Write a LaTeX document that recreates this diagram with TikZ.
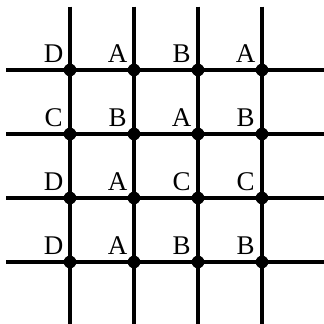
\documentclass[tikz,border=0pt]{standalone}
\usepackage{fontspec}
\setmainfont{Liberation Serif}
\usetikzlibrary{calc}

\begin{document}
\begin{tikzpicture}[x=1cm,y=1cm,
  gridline/.style={line width=1.35pt},
  junction/.style={circle,fill=black,inner sep=0pt,minimum size=5.6pt},
  letter/.style={anchor=base,inner sep=0pt,font=\fontsize{12}{14}\selectfont}]

\useasboundingbox (0,0) rectangle (5.0625,5.0625);

% grid lines
\foreach \i in {0,...,3}{
  \coordinate (top\i) at (1.09375+\i,4.96);
  \coordinate (bot\i) at (1.09375+\i,0);
  \draw[gridline] (top\i) -- (bot\i);
  \coordinate (lft\i) at (0.1,3.96875-\i);
  \coordinate (rgt\i) at (5.0625,3.96875-\i);
  \draw[gridline] (lft\i) -- (rgt\i);
}

% junctions
\foreach \i in {0,...,3}
  \foreach \j in {0,...,3}
    \node[junction] (v\i\j) at (1.09375+\i,3.96875-\j) {};

% letters, row by row
\foreach \i/\lab in {0/D,1/A,2/B,3/A}
  \node[letter] (l\i0) at ($(v\i0)+(-0.255,0.12)$) {\lab};
\foreach \i/\lab in {0/C,1/B,2/A,3/B}
  \node[letter] (l\i1) at ($(v\i1)+(-0.255,0.12)$) {\lab};
\foreach \i/\lab in {0/D,1/A,2/C,3/C}
  \node[letter] (l\i2) at ($(v\i2)+(-0.255,0.12)$) {\lab};
\foreach \i/\lab in {0/D,1/A,2/B,3/B}
  \node[letter] (l\i3) at ($(v\i3)+(-0.255,0.12)$) {\lab};

\end{tikzpicture}
\end{document}
